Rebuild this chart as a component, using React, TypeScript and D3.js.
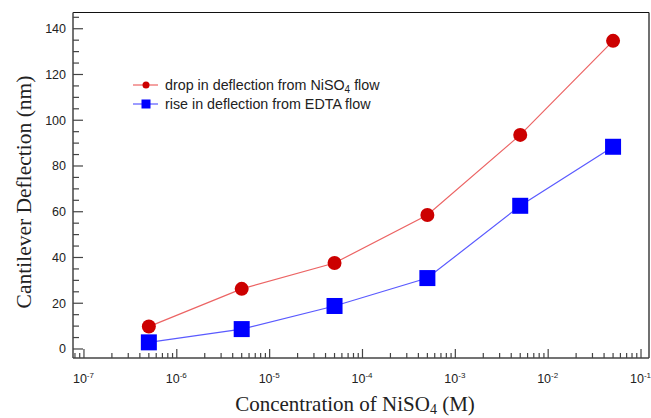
import React from "react";
import * as d3 from "d3";

const concentrations = [5e-7, 5e-6, 5e-5, 5e-4, 5e-3, 5e-2];
const dropNiSO4 = [9.8, 26.3, 37.6, 58.6, 93.6, 134.7];
const riseEDTA = [2.9, 8.7, 18.8, 31.0, 62.6, 88.4];
const yMajorTicks = [0, 20, 40, 60, 80, 100, 120, 140];
const xExponents = [-7, -6, -5, -4, -3, -2, -1];

const W = 651, H = 418;
const L = 73, R = 649, T = 12.5, B = 358;

export default function App() {
  const x = d3.scaleLog().domain([Math.pow(10, -7.118), Math.pow(10, -0.914)]).range([L, R]);
  const y = d3.scaleLinear().domain([-3.94, 147.1]).range([B, T]);

  const yMinor = d3.range(0, 146, 5).filter((v) => v % 20 !== 0);
  const xMinor: number[] = [];
  for (let e = -8; e <= -1; e++) {
    for (let m = 2; m <= 9; m++) {
      const v = m * Math.pow(10, e);
      const px = x(v);
      if (px > L + 0.5 && px < R - 0.5) xMinor.push(v);
    }
  }

  const line = d3.line<number>().x((_, i) => x(concentrations[i])).y((d) => y(d));

  return (
    <svg width={W} height={H} style={{ position: "absolute", left: 0, top: 0, background: "#fff" }}>
      <rect x={0} y={0} width={W} height={H} fill="#fff" />
      {/* frame */}
      <line x1={L} y1={T} x2={R} y2={T} stroke="#111" strokeWidth={1.2} />
      <line x1={R} y1={T} x2={R} y2={B} stroke="#111" strokeWidth={1.2} />
      <line x1={L} y1={T} x2={L} y2={B} stroke="#444" strokeWidth={1.5} />
      <line x1={L} y1={B} x2={R} y2={B} stroke="#444" strokeWidth={1.5} />

      {/* y ticks */}
      {yMajorTicks.map((v) => (
        <g key={"ym" + v}>
          <line x1={L} x2={L + 10} y1={y(v)} y2={y(v)} stroke="#444" strokeWidth={1.2} />
          <text x={66} y={y(v) + 4.5} textAnchor="end" fontFamily="Liberation Sans, Arial, sans-serif" fontSize={12.5} fill="#222">
            {v}
          </text>
        </g>
      ))}
      {yMinor.map((v) => (
        <line key={"yn" + v} x1={L} x2={L + 6} y1={y(v)} y2={y(v)} stroke="#444" strokeWidth={1.2} />
      ))}

      {/* x ticks */}
      {xExponents.map((e) => {
        const px = x(Math.pow(10, e));
        return (
          <g key={"xm" + e}>
            <line x1={px} x2={px} y1={B} y2={B - 9} stroke="#444" strokeWidth={1.2} />
            <text x={px - 11} y={383} textAnchor="start" fontFamily="Liberation Sans, Arial, sans-serif" fontSize={12.5} fill="#222">
              10
              <tspan dy={-5} fontSize={8}>{e}</tspan>
            </text>
          </g>
        );
      })}
      {xMinor.map((v, i) => {
        const px = x(v);
        return <line key={"xn" + i} x1={px} x2={px} y1={B} y2={B - 5} stroke="#444" strokeWidth={1.2} />;
      })}

      {/* series lines */}
      <path d={line(dropNiSO4) || ""} fill="none" stroke="#ec6464" strokeWidth={1.2} />
      <path d={line(riseEDTA) || ""} fill="none" stroke="#5a5aff" strokeWidth={1.2} />

      {/* markers */}
      {dropNiSO4.map((v, i) => (
        <circle key={"r" + i} cx={x(concentrations[i])} cy={y(v)} r={7} fill="#cc0000" />
      ))}
      {riseEDTA.map((v, i) => (
        <rect key={"b" + i} x={x(concentrations[i]) - 8} y={y(v) - 8} width={16} height={16} fill="#0000ff" />
      ))}

      {/* legend */}
      <g fontFamily="Liberation Sans, Arial, sans-serif" fontSize={14.3} fill="#222">
        <line x1={133} x2={158} y1={85} y2={85} stroke="#ec6464" strokeWidth={1.2} />
        <circle cx={146} cy={85} r={3.5} fill="#cc0000" />
        <text x={165} y={90}>
          drop in deflection from NiSO
          <tspan dy={3} fontSize={10}>4</tspan>
          <tspan dy={-3}> flow</tspan>
        </text>
        <line x1={133} x2={158} y1={104} y2={104} stroke="#5a5aff" strokeWidth={1.2} />
        <rect x={141.5} y={99.5} width={9} height={9} fill="#0000ff" />
        <text x={165} y={108.5}>rise in deflection from EDTA flow</text>
      </g>

      {/* axis titles */}
      <text
        transform={`translate(31, 192) rotate(-90)`}
        textAnchor="middle"
        fontFamily="Liberation Serif, Times New Roman, serif"
        fontSize={21.5}
        fill="#222"
      >
        Cantilever Deflection (nm)
      </text>
      <text x={355} y={411} textAnchor="middle" fontFamily="Liberation Serif, Times New Roman, serif" fontSize={21}>
        <tspan fill="#222">Concentration of NiSO</tspan>
        <tspan dy={3} fontSize={14} fill="#222">4</tspan>
        <tspan dy={-3} fill="#222"> (M)</tspan>
      </text>
    </svg>
  );
}
